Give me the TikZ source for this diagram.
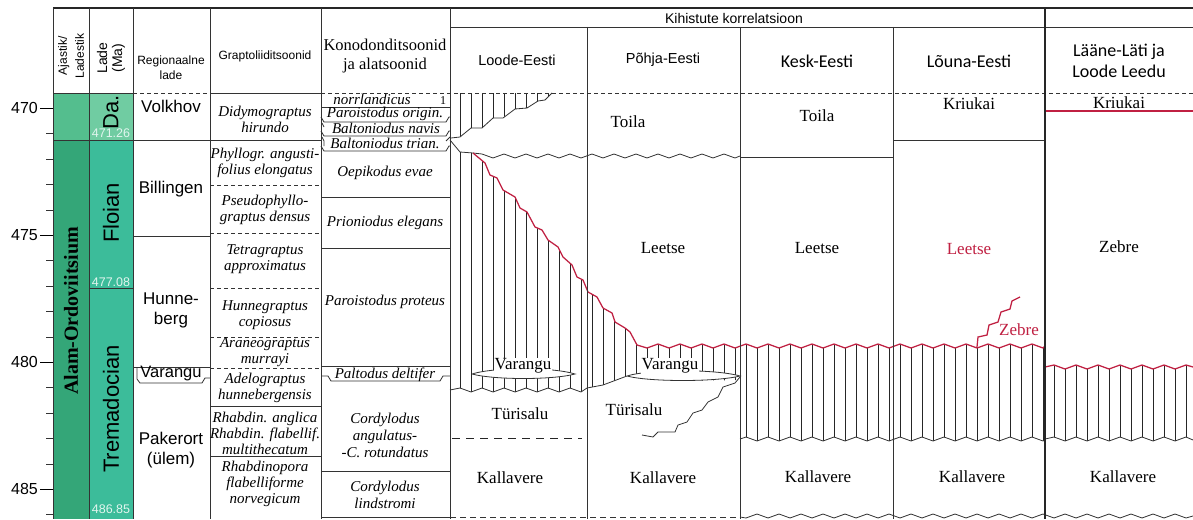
\documentclass[tikz,border=0pt]{standalone}
\usepackage{fontspec}
\setmainfont{Liberation Serif}
\setsansfont{Liberation Sans}
\newfontfamily\calib{Carlito}
\definecolor{redl}{RGB}{192,32,66}
\definecolor{gAj}{RGB}{52,166,120}
\definecolor{gAjTop}{RGB}{84,190,142}
\definecolor{gDa}{RGB}{112,204,162}
\definecolor{gFl}{RGB}{60,188,154}
\definecolor{numc}{RGB}{225,245,238}
\begin{document}
\begin{tikzpicture}[x=1pt,y=-1pt,
  ln/.style={line width=0.8pt, black!80},
  thk/.style={line width=1.4pt, black!85},
  hl/.style={line width=0.6pt, black!85},
  dl/.style={line width=0.8pt, black!80, dash pattern=on 4pt off 3pt},
  rl/.style={line width=1.25pt, redl},
  frm/.style={font=\fontsize{17}{19}\selectfont, inner sep=1pt},
  zn/.style={font=\fontsize{15}{16}\selectfont\itshape, align=center, inner sep=0pt},
  kz/.style={font=\fontsize{15}{17}\selectfont\itshape, align=center, inner sep=0pt},
  sf/.style={font=\sffamily\fontsize{17}{20}\selectfont, align=center, inner sep=0pt},
  hd/.style={font=\sffamily\fontsize{14.5}{17}\selectfont, align=center, inner sep=0pt},
  hc/.style={font=\calib\fontsize{18}{21}\selectfont, align=center, inner sep=0pt},
  ticklab/.style={font=\sffamily\fontsize{16}{18}\selectfont, anchor=east, inner sep=0pt},
  numl/.style={font=\sffamily\fontsize{12.5}{14}\selectfont, text=numc, inner sep=0pt},
  ]
\useasboundingbox (0,0) rectangle (1193,519);
\fill[white] (0,0) rectangle (1193,519);

% ---------- green columns
\fill[gAjTop] (53,93) rectangle (89,140);
\fill[gAj] (53,140) rectangle (89,519);
\fill[gDa] (89,93) rectangle (133,140);
\fill[gFl] (89,140) rectangle (133,519);

% ---------- hatch region A (upper left, Loode-Eesti)
\begin{scope}
\clip (450,93) -- (552,93) -- (545,100) -- (538,101) -- (527,108) -- (515,109) -- (503,118) -- (493,118) -- (482,128) -- (471,128) -- (460,137) -- (451,138) -- (450,138) -- cycle;
\foreach \k in {0,...,9} \draw[hl] ({460+11*\k},93) -- ({460+11*\k},141);
\end{scope}

% ---------- hatch region B (main)
\begin{scope}
\clip (450,140) -- (460,152) -- (473,153) -- (485,163) -- (490,175) -- (497,178) -- (503,190) -- (515,197) -- (520,208) -- (527,212) -- (535,227) -- (542,230) -- (548,240) -- (558,247) -- (563,257) -- (572,265) -- (577,277) -- (583,280) -- (588,292) -- (597,297) -- (603,308) -- (612,313) -- (615,322) -- (625,328) -- (630,332) -- (637,345)
  \foreach \k in {17,...,53} { -- ({460+11*\k},{344+4*mod(\k,2)}) } -- (1045,346)
  -- (1045,440) \foreach \k in {53,52,...,26} { -- ({460+11*\k},{437+4*mod(\k,2)}) } -- (740,439)
  -- (740,380) -- (683,381) -- (627,376) -- (603,385) -- (587,388)
  \foreach \k in {11,10,...,0} { -- ({460+11*\k},{388+4*mod(\k,2)}) } -- (450,390) -- cycle;
\foreach \k in {0,...,53} \draw[hl] ({460+11*\k},139) -- ({460+11*\k},446);
\end{scope}

% ---------- hatch region C (Laane-Lati)
\begin{scope}
\clip (1045,367) \foreach \k in {54,...,66} { -- ({460+11*\k},{365+4*mod(\k,2)}) } -- (1193,367)
  -- (1193,440) \foreach \k in {66,65,...,54} { -- ({460+11*\k},{437+4*mod(\k,2)}) } -- (1045,439) -- cycle;
\foreach \k in {54,...,66} \draw[hl] ({460+11*\k},360) -- ({460+11*\k},446);
\end{scope}

% ---------- lenses (Varangu)
\draw[ln, fill=white] (472,374) .. controls (494,367) and (553,367) .. (575,374) .. controls (553,380) and (494,380) .. (472,374);
\draw[ln, fill=white] (627,376) .. controls (649,369) and (716,369) .. (740,376) .. controls (716,382) and (649,382) .. (627,376);

% ---------- correlation boundaries
\draw[ln] (451,138) -- (460,137) -- (471,128) -- (482,128) -- (493,118) -- (503,118) -- (515,109) -- (527,108) -- (538,101) -- (545,100) -- (552,93);
\draw[ln] (450,140) -- (460,152) -- (473,153);
\draw[ln] (473,153) \foreach \k in {2,...,25} { -- ({460+11*\k},{154+4*mod(\k,2)}) } -- (740,156);
\draw[rl] (473,153) -- (485,163) -- (490,175) -- (497,178) -- (503,190) -- (515,197) -- (520,208) -- (527,212) -- (535,227) -- (542,230) -- (548,240) -- (558,247) -- (563,257) -- (572,265) -- (577,277) -- (583,280) -- (588,292) -- (597,297) -- (603,308) -- (612,313) -- (615,322) -- (625,328) -- (630,332) -- (637,345)
  \foreach \k in {17,...,53} { -- ({460+11*\k},{344+4*mod(\k,2)}) } -- (1045,346);
\draw[ln] (450,390) \foreach \k in {0,...,11} { -- ({460+11*\k},{388+4*mod(\k,2)}) } -- (587,388) -- (603,385) -- (627,376);
\draw[ln] (740,439) \foreach \k in {26,...,53} { -- ({460+11*\k},{437+4*mod(\k,2)}) } -- (1045,440);
\draw[rl] (1045,367) \foreach \k in {54,...,66} { -- ({460+11*\k},{365+4*mod(\k,2)}) } -- (1193,367);
\draw[ln] (1045,439) \foreach \k in {54,...,66} { -- ({460+11*\k},{437+4*mod(\k,2)}) } -- (1193,440);
% Turisalu / Kallavere interfingering (Pohja-Eesti)
\draw[ln] (740,377) -- (735,383) -- (723,387) -- (718,397) -- (708,402) -- (702,410) -- (693,413) -- (687,422) -- (678,425) -- (675,432) -- (658,432) -- (653,437) -- (642,435);
\draw[line width=1pt, black!85, dash pattern=on 8pt off 6pt] (452,438) -- (582,438);
% Zebre tongue (Louna-Eesti)
\draw[rl] (977,347) -- (978,337) -- (987,335) -- (989,325) -- (998,322) -- (1001,312) -- (1010,309) -- (1012,301) -- (1020,297);
% other horizontal boundaries
\draw[ln] (740,157) -- (893,157);
\draw[ln] (893,140) -- (1045,140);
\draw[rl] (1045,111) -- (1193,111);
% bottom
\draw[line width=1pt, black!80, dash pattern=on 6pt off 4pt] (450,517) -- (740,517);
\draw[ln] (740,517) \foreach \k in {26,...,66} { -- ({460+11*\k},{514+4*mod(\k+1,2)}) } -- (1193,516);

% ---------- left column boundaries
\draw[ln] (210,140) -- (321,140);
\foreach \yy in {140,185,233,288,337,368} \draw[dl] (210,\yy) -- (321,\yy);
\foreach \yy in {406,456} \draw[ln] (210,\yy) -- (321,\yy);
% regional
\draw[ln] (133,140) -- (210,140);
\draw[ln] (133,236) -- (210,236);
\draw[ln] (133,367) -- (210,367);
\draw[ln] (137,367) -- (137,379) -- (140,383) -- (202,383) -- (205,378) -- (210,378);
% conodont
\draw[ln] (321,107) -- (450,107);
\draw[ln] (321,117) -- (324,122) -- (446,122) -- (449,117) -- (450,117);
\draw[ln] (322,123) -- (324,127);
\draw[ln] (321,131) -- (324,136) -- (446,136) -- (449,131) -- (450,131);
\draw[ln] (322,137) -- (324,141) -- (324,146);
\draw[ln] (321,146) -- (324,151) -- (446,151) -- (449,146) -- (450,146);
\draw[ln] (446,141) -- (450,137);
\foreach \yy in {197,248,366,471,517} \draw[ln] (321,\yy) -- (450,\yy);
\draw[ln] (321,376) -- (328,376) -- (331,381) -- (440,381) -- (443,376) -- (450,376);
% green column separators
\draw[ln] (53,140) -- (133,140);
\draw[ln] (89,288) -- (133,288);

% ---------- grid
\draw[thk] (53,8) -- (1193,8);
\draw[ln] (450,27) -- (1193,27);
\draw[ln] (53,93) -- (133,93);
\draw[ln] (210,93) -- (321,93);
\draw[dl] (133,93) -- (210,93);
\draw[dl] (321,93) -- (1193,93);
\foreach \xx in {53,89,133,210,321,450} \draw[ln] (\xx,8) -- (\xx,519);
\foreach \xx in {587,740,893} \draw[ln] (\xx,27) -- (\xx,519);
\draw[thk] (1045,8) -- (1045,519);

% ---------- ticks
\foreach \m in {470,...,486} \draw[ln] (46,{108.3+(\m-470)*25.4}) -- (53,{108.3+(\m-470)*25.4});
\foreach \m in {470,475,480,485} {
  \draw[line width=1.2pt] (40,{108.3+(\m-470)*25.4}) -- (53,{108.3+(\m-470)*25.4});
  \node[ticklab] (tick\m) at (38,{108.3+(\m-470)*25.4}) {\m};
}

% ---------- header texts
\node[font=\sffamily\fontsize{12}{17}\selectfont, align=center, rotate=90, inner sep=0pt] (hAj) at (71,56) {Ajastik/\\Ladestik};
\node[font=\sffamily\fontsize{14}{15}\selectfont, align=center, rotate=90, inner sep=0pt] (hLa) at (111,58) {Lade\\(Ma)};
\node[font=\sffamily\fontsize{12}{15}\selectfont, align=center, inner sep=0pt] (hRe) at (171,68) {Regionaalne\\lade};
\node[font=\sffamily\fontsize{12}{15}\selectfont, inner sep=0pt] (hGr) at (265,56) {Graptoliiditsoonid};
\node[font=\fontsize{16.5}{19}\selectfont, align=center, inner sep=0pt] (hKo) at (385,56) {Konodonditsoonid\\ja alatsoonid};
\node[font=\sffamily\fontsize{14}{16}\selectfont, inner sep=0pt] (hKi) at (734,18) {Kihistute korrelatsioon};
\node[hd] (hLoode) at (517,60) {Loode-Eesti};
\node[hd] (hPohja) at (663,60) {Põhja-Eesti};
\node[hc] (hKesk) at (817,61) {Kesk-Eesti};
\node[hc] (hLouna) at (969,61) {Lõuna-Eesti};
\node[hc] (hLaane) at (1119,61) {Lääne-Läti ja\\Loode Leedu};

% ---------- chronostratigraphy
\node[font=\bfseries\fontsize{20}{22}\selectfont, rotate=90, inner sep=0pt] (alam) at (71,311) {Alam-Ordoviitsium};
\node[font=\sffamily\fontsize{22}{24}\selectfont, rotate=90, inner sep=0pt] (da) at (111,112) {Da.};
\node[font=\sffamily\fontsize{22}{24}\selectfont, rotate=90, inner sep=0pt] (floian) at (111,213) {Floian};
\node[font=\sffamily\fontsize{22}{24}\selectfont, rotate=90, inner sep=0pt] (trem) at (111,409) {Tremadocian};
\node[numl] (n1) at (111,133) {471.26};
\node[numl] (n2) at (111,282) {477.08};
\node[numl] (n3) at (111,509) {486.85};

% ---------- regional stages
\node[sf] (volkhov) at (171,106) {Volkhov};
\node[sf] (billingen) at (171,189) {Billingen};
\node[sf] (hunneberg) at (171,310) {Hunne-\\berg};
\node[sf, font=\sffamily\fontsize{16.5}{19}\selectfont] (varanguR) at (171,374) {Varangu};
\node[sf] (pakerort) at (171,450) {Pakerort\\(ülem)};

% ---------- graptolite zones
\node[zn] (g1) at (265,119) {Didymograptus\\hirundo};
\node[zn] (g2) at (265,163) {Phyllogr. angusti-\\folius elongatus};
\node[zn] (g3) at (265,210) {Pseudophyllo-\\graptus densus};
\node[zn] (g4) at (265,259) {Tetragraptus\\approximatus};
\node[zn] (g5) at (265,315) {Hunnegraptus\\copiosus};
\node[zn] (g6) at (265,352) {Araneograptus\\murrayi};
\node[zn] (g7) at (265,388) {Adelograptus\\hunnebergensis};
\node[zn] (g8) at (265,433) {Rhabdin. anglica\\Rhabdin. flabellif.\\multithecatum};
\node[zn] (g9) at (265,484) {Rhabdinopora\\flabelliforme\\norvegicum};

% ---------- conodont zones
\node[zn] (c0) at (372,99) {norrlandicus};
\node[font=\fontsize{12}{13}\selectfont, inner sep=0pt] (c0n) at (443,101) {1};
\node[zn] (c1) at (385,114) {Paroistodus origin.};
\node[zn] (c2) at (386,128) {Baltoniodus navis};
\node[zn] (c3) at (385,143) {Baltoniodus trian.};
\node[zn] (c4) at (385,173) {Oepikodus evae};
\node[zn] (c5) at (385,223) {Prioniodus elegans};
\node[zn] (c6) at (385,302) {Paroistodus proteus};
\node[zn] (c7) at (385,375) {Paltodus deltifer};
\node[kz] (c8) at (385,435) {Cordylodus\\angulatus-\\-C. rotundatus};
\node[kz] (c9) at (385,495) {Cordylodus\\lindstromi};

% ---------- formations
\node[frm] (toilaP) at (628,122) {Toila};
\node[frm] (toilaK) at (817,116) {Toila};
\node[frm] (kriukaiL) at (969,104) {Kriukai};
\node[frm] (kriukaiLL) at (1119,103) {Kriukai};
\node[frm] (leetseP) at (663,248) {Leetse};
\node[frm] (leetseK) at (817,248) {Leetse};
\node[frm, text=redl] (leetseL) at (969,249) {Leetse};
\node[frm] (zebreLL) at (1119,247) {Zebre};
\node[frm, text=redl, inner sep=0pt] (zebreL) at (1019,330) {Zebre};
\node[frm, fill=white, inner sep=0.5pt] (varL) at (523,366) {Varangu};
\node[frm, fill=white, inner sep=0.5pt] (varP) at (670,366) {Varangu};
\node[frm] (turL) at (520,414) {Türisalu};
\node[frm] (turP) at (634,410) {Türisalu};
\node[frm] (kalL) at (510,478) {Kallavere};
\node[frm] (kalP) at (663,478) {Kallavere};
\node[frm] (kalK) at (818,477) {Kallavere};
\node[frm] (kalLo) at (972,477) {Kallavere};
\node[frm] (kalLL) at (1123,477) {Kallavere};
\end{tikzpicture}
\end{document}
